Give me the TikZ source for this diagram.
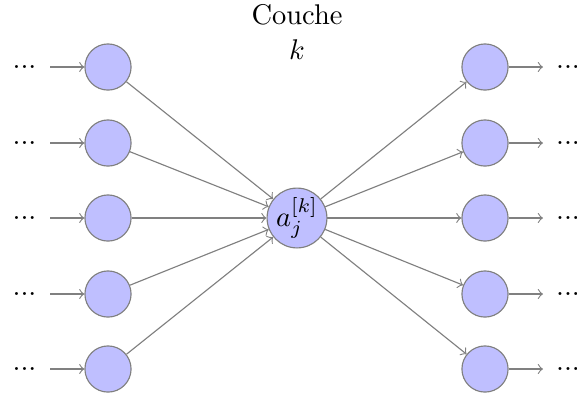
\documentclass[tikz,border=0pt]{standalone}
\begin{document}
\begin{tikzpicture}[x=0.351pt,y=-0.351pt,
  neuron/.style={circle,draw=black!50,fill=blue!25,minimum size=16.2pt,inner sep=0pt},
  bigneuron/.style={circle,draw=black!50,fill=blue!25,minimum size=21pt,inner sep=0pt},
  dotsnode/.style={inner sep=0pt},
  conn/.style={->,draw=black!50}]
\useasboundingbox (0,0) rectangle (577,398);
\node[align=center,inner sep=0pt] (title) at (297,32) {Couche\\$k$};
\node[bigneuron] (c) at (297,218) {$a_j^{[k]}$};
\foreach \i/\y in {1/67,2/143,3/218,4/294,5/369}{
  \node[neuron] (l\i) at (108,\y) {};
  \node[neuron] (r\i) at (485,\y) {};
  \node[dotsnode] (dl\i) at (24.5,\y) {...};
  \node[dotsnode] (dr\i) at (568,\y) {...};
  \coordinate (ls\i) at (50,\y);
  \coordinate (re\i) at (543,\y);
  \draw[conn] (ls\i) -- (l\i);
  \draw[conn] (r\i) -- (re\i);
  \draw[conn] (l\i) -- (c);
  \draw[conn] (c) -- (r\i);
}
\end{tikzpicture}
\end{document}
